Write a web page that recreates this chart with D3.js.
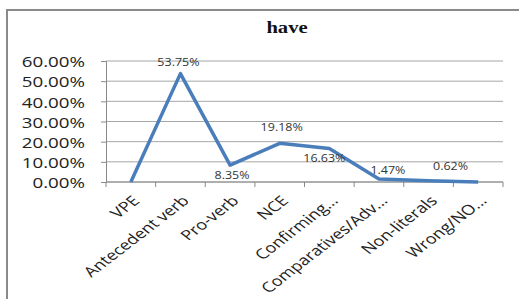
<!DOCTYPE html>
<html>
<head>
<meta charset="utf-8">
<script src="https://cdn.jsdelivr.net/npm/d3@7"></script>
<style>
  body { margin: 0; background: #fff; }
  svg { display: block; }
</style>
</head>
<body>
<div id="chart"></div>
<script>
// chart data
const categories = ["VPE", "Antecedent verb", "Pro-verb", "NCE", "Confirming...", "Comparatives/Adv...", "Non-literals", "Wrong/NO..."];
const values = [0, 0.5375, 0.0835, 0.1918, 0.1663, 0.0147, 0.0062, 0];
const valueLabels = ["", "53.75%", "8.35%", "19.18%", "16.63%", "1.47%", "0.62%", ""];
const yTicks = [0, 0.1, 0.2, 0.3, 0.4, 0.5, 0.6];
const chartTitle = "have";

// where excel put the data labels, relative to each point
const labelOffsets = [[0, 0], [-2, -8], [2, 14], [2, -12], [-5, 14], [9, -5], [22, -11], [0, 0]];

const W = 519, H = 299;
const stretch = "scale(1.25,1)"; // the picture is a bit wide
const font = "Open Sans, DejaVu Sans, sans-serif";

const svg = d3.select("#chart").append("svg")
    .attr("width", W)
    .attr("height", H);

// outer frame
svg.append("rect")
    .attr("x", 7).attr("y", 10)
    .attr("width", W + 10).attr("height", H + 10)
    .attr("fill", "#fff")
    .attr("stroke", "#8a8a8a")
    .attr("stroke-width", 2);

const x = d3.scaleBand()
    .domain(categories)
    .range([106, 503]);

const y = d3.scaleLinear()
    .domain([0, 0.6])
    .range([182, 61]);

// gridlines
svg.append("g")
    .selectAll("line")
    .data(yTicks)
    .enter()
    .append("line")
    .attr("x1", 106).attr("x2", 503)
    .attr("y1", d => y(d)).attr("y2", d => y(d))
    .attr("stroke", "#a6a6a6")
    .attr("stroke-width", 1);

// y axis
const yAxis = svg.append("g")
    .attr("transform", "translate(106,0)")
    .call(d3.axisLeft(y).tickValues(yTicks).tickSize(5).tickFormat(d3.format(".2%")));
yAxis.select(".domain").attr("stroke", "#8a8a8a");
yAxis.selectAll(".tick line").attr("stroke", "#8a8a8a");
yAxis.selectAll(".tick text")
    .attr("x", null).attr("dy", null)
    .attr("text-anchor", "end")
    .attr("dominant-baseline", "central")
    .attr("transform", `translate(-21,0) ${stretch}`)
    .style("font-family", font)
    .style("font-size", "15px")
    .attr("fill", "#222");

// x axis with ticks at band edges
const xAxis = svg.append("g")
    .attr("transform", `translate(0,${y(0)})`);
xAxis.append("line")
    .attr("x1", 106).attr("x2", 503)
    .attr("stroke", "#8a8a8a");
xAxis.selectAll(".xtick")
    .data(categories.concat(["end"]))
    .enter()
    .append("line")
    .attr("class", "xtick")
    .attr("x1", (d, i) => i < categories.length ? x(d) : x.range()[1])
    .attr("x2", (d, i) => i < categories.length ? x(d) : x.range()[1])
    .attr("y1", 0).attr("y2", 5)
    .attr("stroke", "#8a8a8a");
xAxis.selectAll(".xlabel")
    .data(categories)
    .enter()
    .append("text")
    .attr("class", "xlabel")
    .attr("text-anchor", "end")
    .attr("dominant-baseline", "central")
    .attr("transform", d => `translate(${x(d) + x.bandwidth() / 2 + 5},16) scale(1.3,1) rotate(-45)`)
    .style("font-family", font)
    .style("font-size", "14px")
    .attr("fill", "#222")
    .text(d => d);

// the line
const line = d3.line()
    .x((d, i) => x(categories[i]) + x.bandwidth() / 2)
    .y(d => y(d));

svg.append("path")
    .datum(values)
    .attr("d", line)
    .attr("fill", "none")
    .attr("stroke", "#4a7ebb")
    .attr("stroke-width", 3.5)
    .attr("stroke-linejoin", "round");

// data labels
svg.append("g")
    .selectAll("text")
    .data(values)
    .enter()
    .append("text")
    .attr("text-anchor", "middle")
    .attr("transform", (d, i) => {
        const px = x(categories[i]) + x.bandwidth() / 2 + labelOffsets[i][0];
        const py = y(d) + labelOffsets[i][1];
        return `translate(${px},${py}) ${stretch}`;
    })
    .style("font-family", font)
    .style("font-size", "10px")
    .attr("fill", "#333")
    .text((d, i) => valueLabels[i]);

// title
svg.append("text")
    .attr("text-anchor", "middle")
    .attr("transform", `translate(287,33) ${stretch}`)
    .style("font-family", "Liberation Serif, Times New Roman, serif")
    .style("font-weight", "bold")
    .style("font-size", "16.5px")
    .attr("fill", "#111")
    .text(chartTitle);
</script>
</body>
</html>
